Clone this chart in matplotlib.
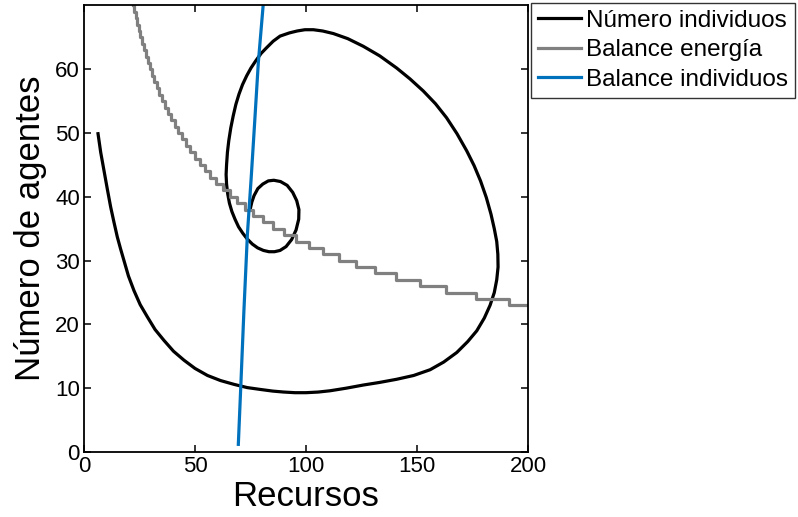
import matplotlib
matplotlib.use('Agg')
import matplotlib.pyplot as plt

plt.rcParams['font.family'] = ['Liberation Sans', 'DejaVu Sans']

# trayectoria (recursos, individuos)
rec_traj = [6.3, 7.5, 9.0, 10.5, 12.0, 13.5, 15.0, 16.5, 18.0, 20.0, 22.5, 25.3,
            28.5, 32.0, 36.0, 40.3, 45.0, 50.0, 55.6, 61.5, 67.6, 73.5, 79.6,
            85.0, 90.0, 95.0, 100.0, 105.5, 110.8, 118.0, 125.8, 133.0, 140.8,
            148.5, 155.9, 162.0, 167.9, 172.8, 176.9, 180.3, 182.9, 184.8, 185.9,
            186.5, 186.4, 185.9, 184.8, 183.3, 181.2, 178.6, 175.7, 172.4, 168.0,
            163.3, 158.3, 152.8, 146.8, 140.8, 133.2, 125.8, 118.8, 112.3, 107.5,
            103.3, 99.5, 96.0, 92.5, 88.3, 85.2, 82.3, 79.8, 77.3, 75.2, 73.3,
            71.4, 69.8, 68.4, 67.2, 66.1, 65.2, 64.6, 64.2, 64.0, 64.2, 64.7,
            65.5, 66.6, 68.0, 69.6, 71.5, 73.5, 75.8, 78.2, 80.8, 83.3, 85.8,
            88.3, 91.0, 93.5, 95.5, 96.7, 96.8, 95.8, 94.0, 91.5, 88.5, 85.5,
            83.0, 80.5, 78.3, 76.6, 75.6, 75.0]
ind_traj = [49.9, 47.0, 44.1, 41.2, 38.4, 36.0, 33.7, 31.8, 30.0, 27.6, 25.3, 23.1,
            21.2, 19.2, 17.5, 15.8, 14.4, 13.1, 12.0, 11.2, 10.6, 10.1, 9.8,
            9.55, 9.4, 9.3, 9.3, 9.4, 9.6, 10.0, 10.5, 10.9, 11.4,
            12.0, 12.9, 14.1, 15.6, 17.3, 19.0, 21.0, 23.0, 25.0, 27.0,
            29.0, 31.0, 33.0, 35.0, 37.3, 39.9, 42.5, 44.9, 47.2, 49.9,
            52.4, 54.6, 56.6, 58.5, 60.2, 62.1, 63.6, 64.8, 65.6, 66.0,
            66.2, 66.2, 66.0, 65.7, 65.2, 64.4, 63.4, 62.5, 61.3, 60.2, 59.0,
            57.6, 56.1, 54.5, 52.7, 50.8, 48.8, 47.0, 45.0, 43.5, 42.0, 40.5,
            39.0, 37.7, 36.5, 35.3, 34.3, 33.4, 32.6, 32.0, 31.6, 31.4, 31.4,
            31.6, 32.2, 33.3, 34.8, 36.5, 38.0, 39.4, 40.7, 41.8, 42.4, 42.6,
            42.5, 42.0, 41.3, 40.2, 39.2, 38.3]

# balance de energia (escalonado)
rec_energia = [22.0, 22.5, 23.2, 23.8, 24.6, 25.3, 26.1, 26.9, 27.8, 28.7, 29.6,
               30.6, 31.7, 32.8, 33.9, 35.2, 36.4, 37.8, 39.2, 40.8, 42.4,
               44.1, 45.9, 47.8, 49.9, 52.1, 54.4, 56.9, 59.6, 62.5, 65.6,
               68.9, 72.5, 76.3, 80.5, 85.1, 90.0, 95.4, 101.2, 107.6, 114.7,
               122.5, 131.1, 140.6, 151.2, 163.1, 176.4, 191.4, 200.0]
ind_energia = [70, 69, 68, 67, 66, 65, 64, 63, 62, 61, 60,
               59, 58, 57, 56, 55, 54, 53, 52, 51, 50,
               49, 48, 47, 46, 45, 44, 43, 42, 41, 40,
               39, 38, 37, 36, 35, 34, 33, 32, 31, 30,
               29, 28, 27, 26, 25, 24, 23, 23]

# balance de individuos
rec_indiv = [69.5, 70.6, 72.0, 73.6, 75.3, 76.9, 78.5, 80.8]
ind_indiv = [1.2, 10.2, 22.0, 34.2, 43.0, 51.9, 61.0, 70.5]

fig = plt.figure(figsize=(7.98, 5.17), dpi=100)
ax = fig.add_axes([0.1053, 0.1257, 0.5564, 0.8637])

ax.plot(rec_traj, ind_traj, color='black', lw=2.3, solid_joinstyle='round',
        label='Número individuos')
ax.step(rec_energia, ind_energia, where='post', color='#808080', lw=2.3,
        label='Balance energía')
ax.plot(rec_indiv, ind_indiv, color='#0072BD', lw=2.3, label='Balance individuos')

ax.set_xlim(0, 200)
ax.set_ylim(0, 70)
ax.set_xticks([0, 50, 100, 150, 200])
ax.set_yticks([0, 10, 20, 30, 40, 50, 60])
ax.tick_params(direction='in', top=True, right=True, length=5, width=1.1,
               labelsize=16, pad=3)
for s in ax.spines.values():
    s.set_linewidth(1.3)

ax.set_xlabel('Recursos', fontsize=25, labelpad=2)
ax.set_ylabel('Número de agentes', fontsize=25, labelpad=6)

leg = ax.legend(loc='upper left', bbox_to_anchor=(0.665, 0.995),
                bbox_transform=fig.transFigure, fontsize=17.5, frameon=True,
                fancybox=False, handlelength=1.77, handletextpad=0.2,
                labelspacing=0.3, borderpad=0.3, borderaxespad=0.0)
leg.get_frame().set_edgecolor('black')
leg.get_frame().set_linewidth(1.0)

fig.savefig('out.png', dpi=100)
